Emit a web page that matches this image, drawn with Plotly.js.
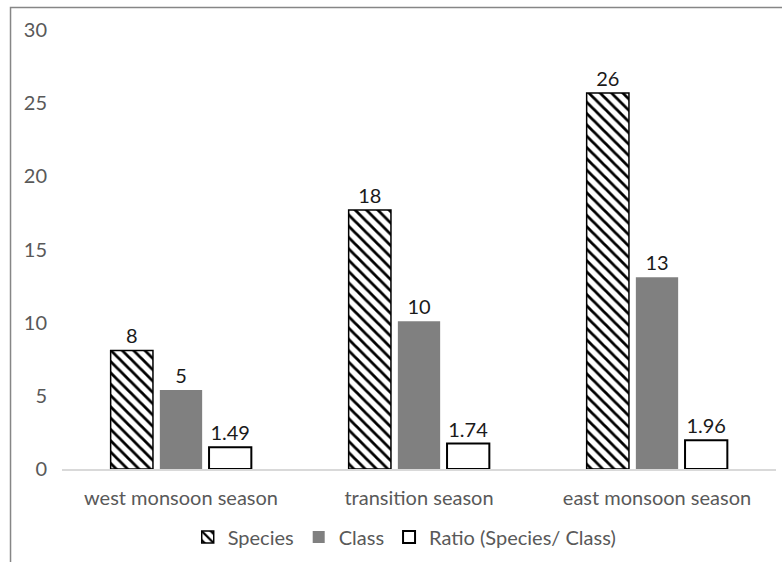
<!DOCTYPE html>
<html>
<head>
<meta charset="utf-8">
<script src="https://cdn.plot.ly/plotly-3.0.1.min.js"></script>
<style>
  html, body { margin: 0; padding: 0; background: #fff; }
  #chart { width: 782px; height: 562px; }
</style>
</head>
<body>
<div id="chart"></div>
<script>
const categories = ["west monsoon season", "transition season", "east monsoon season"];
const speciesValues = [8.1, 17.7, 25.7];
const classValues = [5.4, 10.1, 13.1];
const ratioValues = [1.49, 1.74, 1.96];
const seriesNames = ["Species", "Class", "Ratio (Species/ Class)"];
const yTickValues = [0, 5, 10, 15, 20, 25, 30];

const FONT = "Lato, 'Open Sans', sans-serif";
const labelFont = { family: FONT, size: 20, color: "#1a1a1a" };

const traces = [
  {
    type: "bar",
    name: seriesNames[0],
    x: categories,
    y: speciesValues,
    texttemplate: "%{y:.0f}",
    textposition: "outside",
    textfont: labelFont,
    cliponaxis: false,
    marker: {
      color: "#ffffff",
      pattern: { shape: "\\", fgcolor: "#000000", bgcolor: "#ffffff", size: 8, solidity: 0.35 },
      line: { color: "#000000", width: 1.5 }
    }
  },
  {
    type: "bar",
    name: seriesNames[1],
    x: categories,
    y: classValues,
    texttemplate: "%{y:.0f}",
    textposition: "outside",
    textfont: labelFont,
    cliponaxis: false,
    marker: { color: "#808080", line: { width: 0 } }
  },
  {
    type: "bar",
    name: seriesNames[2],
    x: categories,
    y: ratioValues,
    texttemplate: "%{y:.2f}",
    textposition: "outside",
    textfont: labelFont,
    cliponaxis: false,
    marker: { color: "#ffffff", line: { color: "#000000", width: 2 } }
  }
];

const layout = {
  width: 782,
  height: 562,
  margin: { l: 62, r: 6, t: 30, b: 90 },
  paper_bgcolor: "#ffffff",
  plot_bgcolor: "#ffffff",
  barmode: "group",
  bargap: 0.38,
  bargroupgap: 0.14,
  font: { family: FONT, size: 20, color: "#595959" },
  showlegend: true,
  legend: {
    orientation: "h",
    x: 0.48,
    xanchor: "center",
    y: -0.155,
    yanchor: "middle",
    font: { family: FONT, size: 20, color: "#595959" },
    traceorder: "normal"
  },
  xaxis: {
    type: "category",
    showline: true,
    linecolor: "#d9d9d9",
    linewidth: 2,
    ticks: "",
    showgrid: false,
    zeroline: false,
    ticklabelstandoff: 10,
    tickfont: { family: FONT, size: 20, color: "#595959" }
  },
  yaxis: {
    range: [0, 30],
    tickvals: yTickValues,
    showgrid: false,
    zeroline: false,
    showline: false,
    ticks: "",
    ticklabelstandoff: 14,
    tickfont: { family: FONT, size: 20, color: "#595959" }
  },
  shapes: [
    {
      type: "path",
      xref: "paper",
      yref: "paper",
      path: "M -0.0721 -0.3 L -0.0721 1.051 L 1.1 1.051",
      line: { color: "#868686", width: 1.5 }
    }
  ]
};

Plotly.newPlot("chart", traces, layout, { displayModeBar: false, staticPlot: true });
</script>
</body>
</html>
